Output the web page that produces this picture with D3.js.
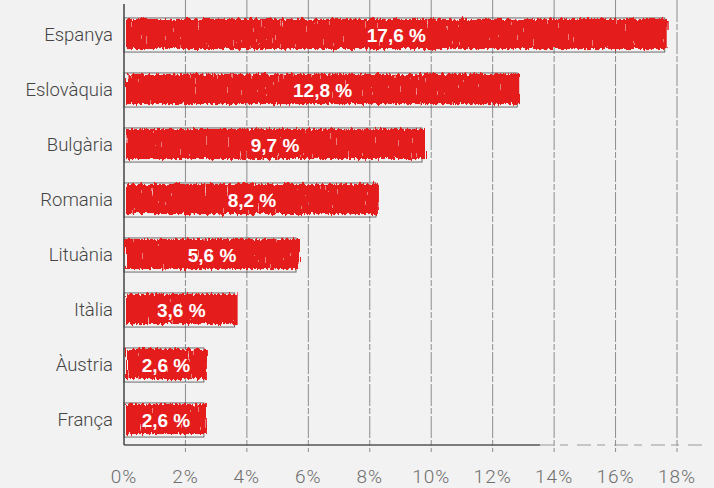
<!DOCTYPE html>
<html>
<head>
<meta charset="utf-8">
<script src="https://cdn.jsdelivr.net/npm/d3@7"></script>
<style>
  html, body { margin: 0; padding: 0; background: #f2f2f2; }
  svg { display: block; }
</style>
</head>
<body>
<svg id="chart" width="714" height="488"></svg>
<script>
// data
const countries = ['Espanya', 'Eslovàquia', 'Bulgària', 'Romania', 'Lituània', 'Itàlia', 'Àustria', 'França'];
const shares = [17.6, 12.8, 9.7, 8.2, 5.6, 3.6, 2.6, 2.6];
const valueLabels = ['17,6 %', '12,8 %', '9,7 %', '8,2 %', '5,6 %', '3,6 %', '2,6 %', '2,6 %'];
const xTicks = [0, 2, 4, 6, 8, 10, 12, 14, 16, 18];

const svg = d3.select('#chart');
const W = 714, H = 488;
const baseY = 445;

svg.append('rect').attr('width', W).attr('height', H).attr('fill', '#f2f2f2');

// rough marker look for the bars: wobbly edges + a few pale streaks
const defs = svg.append('defs');
const f = defs.append('filter').attr('id', 'scribble')
    .attr('x', '-2%').attr('y', '-20%').attr('width', '104%').attr('height', '140%');
f.append('feTurbulence')
    .attr('type', 'fractalNoise')
    .attr('baseFrequency', '0.45 0.03')
    .attr('numOctaves', 2)
    .attr('seed', 7)
    .attr('result', 'noise');
f.append('feDisplacementMap')
    .attr('in', 'SourceGraphic')
    .attr('in2', 'noise')
    .attr('scale', 7)
    .attr('xChannelSelector', 'R')
    .attr('yChannelSelector', 'G')
    .attr('result', 'shape');
f.append('feTurbulence')
    .attr('type', 'fractalNoise')
    .attr('baseFrequency', '0.6 0.06')
    .attr('numOctaves', 2)
    .attr('seed', 3)
    .attr('result', 'n2');
f.append('feColorMatrix')
    .attr('in', 'n2')
    .attr('type', 'matrix')
    .attr('values', '0 0 0 0 0  0 0 0 0 0  0 0 0 0 0  1 0 0 0 0')
    .attr('result', 'n2a');
const ct = f.append('feComponentTransfer').attr('in', 'n2a').attr('result', 'mask');
ct.append('feFuncA').attr('type', 'discrete').attr('tableValues', '0 0 0 0 0 0 0 0 0 0.45 0.7 0.7');
f.append('feComposite')
    .attr('in', 'shape')
    .attr('in2', 'mask')
    .attr('operator', 'out');

const x = d3.scaleLinear().domain([0, 18]).range([124, 677]);
const y = d3.scaleBand().domain(countries).range([7.5, 447.5])
    .paddingInner(0.38).paddingOuter(0.19);

// vertical grid lines
svg.append('g')
    .selectAll('line')
    .data(xTicks.slice(1))
    .join('line')
    .attr('x1', d => x(d)).attr('x2', d => x(d))
    .attr('y1', 0).attr('y2', baseY + 7)
    .attr('stroke', '#8c8c8c')
    .attr('stroke-width', 1)
    .attr('stroke-dasharray', '22,2,6,2');

// axes lines
svg.append('line')
    .attr('x1', x(0)).attr('x2', x(0))
    .attr('y1', 4).attr('y2', baseY)
    .attr('stroke', '#444').attr('stroke-width', 1.5);
svg.append('line')
    .attr('x1', x(0)).attr('x2', 540)
    .attr('y1', baseY).attr('y2', baseY)
    .attr('stroke', '#555').attr('stroke-width', 1.5);
svg.append('line')
    .attr('x1', 540).attr('x2', 705)
    .attr('y1', baseY).attr('y2', baseY)
    .attr('stroke', '#999').attr('stroke-width', 1)
    .attr('stroke-dasharray', '14,6,8,9');

// bars
const rows = countries.map((c, i) => ({c, v: shares[i], label: valueLabels[i]}));

const bars = svg.append('g').selectAll('g').data(rows).join('g');

bars.append('rect')
    .attr('x', x(0))
    .attr('y', d => y(d.c))
    .attr('width', d => x(d.v) - x(0))
    .attr('height', y.bandwidth())
    .attr('fill', 'none')
    .attr('stroke', '#4a4a4a')
    .attr('stroke-opacity', 0.8)
    .attr('stroke-width', 1);

bars.append('rect')
    .attr('x', x(0) + 2)
    .attr('y', d => y(d.c) + 1)
    .attr('width', d => x(d.v) - x(0) + 1)
    .attr('height', y.bandwidth() - 4)
    .attr('fill', '#e41a1c')
    .attr('filter', 'url(#scribble)');

bars.append('text')
    .attr('x', d => (x(0) + x(d.v)) / 2 + 2)
    .attr('y', d => y(d.c) + y.bandwidth() / 2)
    .attr('dy', '0.36em')
    .attr('text-anchor', 'middle')
    .attr('fill', '#fff')
    .attr('font-family', 'Liberation Sans, Arial, sans-serif')
    .attr('font-weight', 'bold')
    .attr('font-size', 19)
    .text(d => d.label);

// category labels
svg.append('g').selectAll('text').data(countries).join('text')
    .attr('x', 113)
    .attr('y', d => y(d) + y.bandwidth() / 2)
    .attr('dy', '0.35em')
    .attr('text-anchor', 'end')
    .attr('fill', '#444')
    .attr('font-family', 'Roboto, Liberation Sans, sans-serif')
    .attr('font-weight', 300)
    .attr('font-size', 18.5)
    .text(d => d);

// x tick labels
svg.append('g').selectAll('text').data(xTicks).join('text')
    .attr('x', d => x(d))
    .attr('y', 476)
    .attr('dy', '0.35em')
    .attr('text-anchor', 'middle')
    .attr('fill', '#6e6e6e')
    .attr('font-family', 'Roboto, Liberation Sans, sans-serif')
    .attr('font-weight', 300)
    .attr('font-size', 19)
    .attr('letter-spacing', 1)
    .text(d => d + '%');
</script>
</body>
</html>
